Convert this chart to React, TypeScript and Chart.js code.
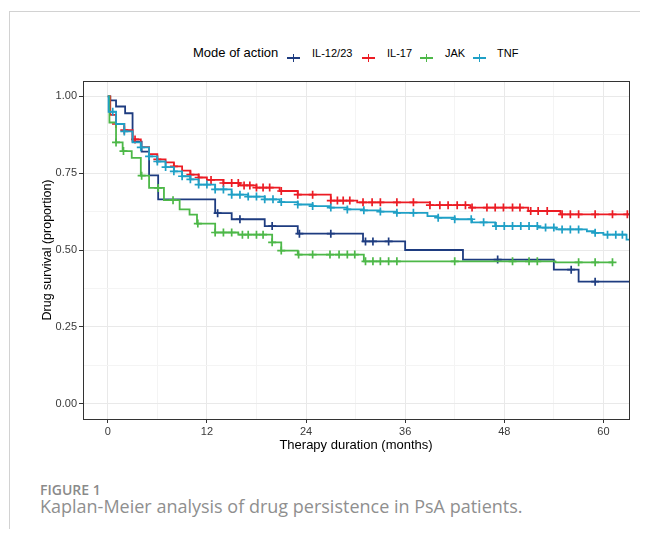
import React, { useEffect, useRef } from "react";
import { Chart, registerables } from "chart.js";
Chart.register(...registerables);

// ---- data (months, survival proportion) ----
const seriesNames = ["IL-12/23", "IL-17", "JAK", "TNF"];
const seriesColors = ["#1E3C80", "#EC1C24", "#4DB848", "#1FA0C6"];

const il1223Times = [0, 0.3, 1, 2.1, 3, 4.1, 5, 6.1, 13, 15, 19, 23, 30.9, 36, 43, 54, 57, 64];
const il1223Surv = [1.0, 0.987, 0.967, 0.945, 0.853, 0.82, 0.743, 0.665, 0.62, 0.6, 0.578, 0.553, 0.528, 0.5, 0.469, 0.436, 0.397, 0.397];
const il1223Censor = [13.3, 16, 19.9, 23.2, 27, 31.2, 32.1, 34, 47.2, 56.1, 59];

const il17Times = [0, 0.3, 1, 2, 3, 4, 5, 6, 7, 8, 9, 10, 11, 12, 14, 16, 18, 20.8, 23, 27, 30.2, 39, 43.9, 50.9, 54.8, 64];
const il17Surv = [1.0, 0.94, 0.91, 0.89, 0.86, 0.835, 0.812, 0.795, 0.785, 0.772, 0.758, 0.745, 0.736, 0.728, 0.718, 0.71, 0.703, 0.692, 0.68, 0.661, 0.655, 0.646, 0.638, 0.627, 0.616, 0.616];
const il17Censor = [1, 2, 3.3, 6, 8, 10, 11, 12.5, 14, 15, 15.8, 16.5, 17.2, 18, 18.8, 19.6, 21, 23, 24.8, 27, 27.8, 28.5, 29.3, 30.9, 32, 33, 35, 37, 39, 40.2, 41.2, 42.3, 43.3, 44.1, 45.9, 46.9, 47.9, 49, 49.9, 51.2, 52.1, 53.2, 55, 56, 57, 59, 61.1, 62.9];

const jakTimes = [0, 0.2, 1, 1.8, 2.9, 4, 5, 6.8, 8.7, 9.9, 10.8, 13, 15.8, 19.9, 21, 23, 31, 54.2, 61.2];
const jakSurv = [1.0, 0.915, 0.85, 0.822, 0.8, 0.742, 0.702, 0.662, 0.632, 0.615, 0.586, 0.557, 0.55, 0.525, 0.498, 0.485, 0.463, 0.46, 0.46];
const jakCensor = [1, 1.9, 4.1, 6.1, 7.9, 10.9, 13, 14, 15, 16.3, 17, 18, 18.8, 19.9, 21, 23.1, 24.8, 26.9, 28, 29, 29.9, 31.2, 32.1, 33, 34, 35, 42, 49, 51, 52, 57, 59, 61.1];

const tnfTimes = [0, 0.1, 1, 2, 3, 4, 5, 6, 7, 8, 9, 10, 11, 13, 15, 17, 19, 20.8, 23, 24.8, 26.9, 29, 31, 33, 35, 38.7, 40, 42, 44.1, 46.9, 52.1, 54.3, 58, 59, 60, 62.8, 64];
const tnfSurv = [1.0, 0.95, 0.91, 0.886, 0.85, 0.834, 0.805, 0.788, 0.77, 0.756, 0.74, 0.73, 0.713, 0.697, 0.68, 0.674, 0.665, 0.656, 0.648, 0.643, 0.638, 0.632, 0.629, 0.625, 0.621, 0.61, 0.605, 0.6, 0.59, 0.578, 0.573, 0.567, 0.561, 0.556, 0.55, 0.534, 0.534];
const tnfCensor = [0.6, 2, 4, 5, 6, 7, 8, 9, 10, 11, 12, 13, 14, 15, 16, 17, 18, 19, 20, 21, 23, 24.8, 27, 29, 31, 33, 35, 37, 40, 42, 44, 45.5, 47, 48, 49, 50, 51, 52, 53, 54, 55, 56, 57, 59, 60.5, 61.5, 62.3];

const xTickValues = [0, 6, 12, 18, 24, 30, 36, 42, 48, 54, 60];
const xLabelValues = [0, 12, 24, 36, 48, 60];
const yTickValues = [0, 0.125, 0.25, 0.375, 0.5, 0.625, 0.75, 0.875, 1];
const yLabelValues = [0, 0.25, 0.5, 0.75, 1];

const xTitle = "Therapy duration (months)";
const yTitle = "Drug survival (proportion)";
const legendTitle = "Mode of action";
const figLabel = "FIGURE 1";
const figCaption = "Kaplan-Meier analysis of drug persistence in PsA patients.";

const series = [
  { times: il1223Times, surv: il1223Surv, censor: il1223Censor },
  { times: il17Times, surv: il17Surv, censor: il17Censor },
  { times: jakTimes, surv: jakSurv, censor: jakCensor },
  { times: tnfTimes, surv: tnfSurv, censor: tnfCensor },
];

function stepAt(times: number[], surv: number[], t: number) {
  let v = surv[0];
  for (let i = 0; i < times.length; i++) {
    if (times[i] <= t) v = surv[i];
  }
  return v;
}

const isLabel = (arr: number[], v: number) => arr.some((a) => Math.abs(a - v) < 1e-6);

const FONT = "'Liberation Sans', Arial, sans-serif";
const CAPFONT = "'Open Sans', Lato, sans-serif";

const panelBorder = {
  id: "panelBorder",
  afterDatasetsDraw(chart: any) {
    const { ctx, chartArea } = chart;
    ctx.save();
    ctx.strokeStyle = "#333333";
    ctx.lineWidth = 1;
    ctx.strokeRect(
      Math.round(chartArea.left) + 0.5,
      Math.round(chartArea.top) + 0.5,
      Math.round(chartArea.right - chartArea.left),
      Math.round(chartArea.bottom - chartArea.top)
    );
    ctx.restore();
  },
};

function LegendSymbol({ color }: { color: string }) {
  return (
    <span style={{ position: "relative", display: "inline-block", width: 13, height: 9 }}>
      <span style={{ position: "absolute", left: 0, top: 4, width: 13, height: 1.7, background: color }} />
      <span style={{ position: "absolute", left: 5.7, top: 0.5, width: 1.7, height: 8, background: color }} />
    </span>
  );
}

export default function App() {
  const canvasRef = useRef<HTMLCanvasElement | null>(null);

  useEffect(() => {
    const canvas = canvasRef.current;
    if (!canvas) return;
    const datasets: any[] = [];
    // draw later groups on top (Chart.js draws first dataset last)
    for (let k = series.length - 1; k >= 0; k--) {
      const s = series[k];
      const color = seriesColors[k];
      datasets.push({
        type: "scatter",
        label: seriesNames[k] + " censored",
        data: s.censor.map((t) => ({ x: t, y: stepAt(s.times, s.surv, t) })),
        borderColor: color,
        backgroundColor: color,
        pointStyle: "cross",
        pointRadius: 4,
        pointBorderWidth: 1.7,
        showLine: false,
        clip: 0,
      });
      datasets.push({
        type: "line",
        label: seriesNames[k],
        data: s.times.map((t, i) => ({ x: t, y: s.surv[i] })),
        borderColor: color,
        backgroundColor: color,
        borderWidth: 1.8,
        pointRadius: 0,
        stepped: "before",
        fill: false,
        clip: 0,
      });
    }

    const chart = new Chart(canvas, {
      type: "line",
      data: { datasets },
      options: {
        animation: false,
        responsive: false,
        maintainAspectRatio: false,
        layout: { padding: { left: 0, right: 11, top: 11, bottom: 0 } },
        plugins: { legend: { display: false }, tooltip: { enabled: false } },
        scales: {
          x: {
            type: "linear",
            min: -3.0,
            max: 63.1,
            afterBuildTicks: (scale: any) => {
              scale.ticks = xTickValues.map((v) => ({ value: v }));
            },
            afterFit: (scale: any) => {
              scale.height = 41;
            },
            ticks: {
              autoSkip: false,
              maxRotation: 0,
              padding: 2,
              color: "#3a3a3a",
              font: { family: FONT, size: 11 },
              callback: (v: any) => (isLabel(xLabelValues, Number(v)) ? String(v) : ""),
            },
            grid: {
              color: (ctx: any) => (isLabel(xLabelValues, ctx.tick?.value) ? "#e9e9e9" : "#f4f4f4"),
              lineWidth: 1,
              tickLength: 4,
              tickColor: (ctx: any) => (isLabel(xLabelValues, ctx.tick?.value) ? "#333333" : "rgba(0,0,0,0)"),
            },
            border: { display: false },
            title: {
              display: true,
              text: xTitle,
              color: "#000000",
              font: { family: FONT, size: 13 },
              padding: { top: 0, bottom: 7 },
            },
          },
          y: {
            type: "linear",
            min: -0.05,
            max: 1.05,
            afterBuildTicks: (scale: any) => {
              scale.ticks = yTickValues.map((v) => ({ value: v }));
            },
            afterFit: (scale: any) => {
              scale.width = 53;
            },
            ticks: {
              autoSkip: false,
              padding: 2,
              color: "#3a3a3a",
              font: { family: FONT, size: 11 },
              callback: (v: any) => (isLabel(yLabelValues, Number(v)) ? Number(v).toFixed(2) : ""),
            },
            grid: {
              color: (ctx: any) => (isLabel(yLabelValues, ctx.tick?.value) ? "#e9e9e9" : "#f4f4f4"),
              lineWidth: 1,
              tickLength: 4,
              tickColor: (ctx: any) => (isLabel(yLabelValues, ctx.tick?.value) ? "#333333" : "rgba(0,0,0,0)"),
            },
            border: { display: false },
            title: {
              display: true,
              text: yTitle,
              color: "#000000",
              font: { family: FONT, size: 12.5 },
              padding: { top: 10, bottom: 0 },
            },
          },
        },
      },
      plugins: [panelBorder],
    } as any);
    return () => chart.destroy();
  }, []);

  const legendPos = [
    { sym: 287, lab: 312 },
    { sym: 362, lab: 387 },
    { sym: 420, lab: 445 },
    { sym: 473, lab: 497 },
  ];

  return (
    <div style={{ position: "relative", width: 648, height: 537, margin: -8, overflow: "hidden", background: "#ffffff" }}>
      <div
        style={{
          position: "absolute",
          left: 9,
          top: 11,
          width: 700,
          height: 600,
          borderLeft: "1px solid #d2d2d2",
          borderTop: "1px solid #d2d2d2",
        }}
      />
      <div
        style={{
          position: "absolute",
          left: 193,
          top: 45,
          fontFamily: FONT,
          fontSize: 13,
          color: "#000",
          whiteSpace: "nowrap",
          lineHeight: "16px",
        }}
      >
        {legendTitle}
      </div>
      {seriesNames.map((name, i) => (
        <React.Fragment key={name}>
          <div style={{ position: "absolute", left: legendPos[i].sym, top: 48 }}>
            <LegendSymbol color={seriesColors[i]} />
          </div>
          <div
            style={{
              position: "absolute",
              left: legendPos[i].lab,
              top: 46,
              fontFamily: FONT,
              fontSize: 11,
              color: "#000",
              whiteSpace: "nowrap",
              lineHeight: "14px",
            }}
          >
            {name}
          </div>
        </React.Fragment>
      ))}
      <canvas
        ref={canvasRef}
        width={610}
        height={390}
        style={{ position: "absolute", left: 30, top: 70, width: 610, height: 390 }}
      />
      <div
        style={{
          position: "absolute",
          left: 40,
          top: 481,
          fontFamily: CAPFONT,
          fontWeight: 600,
          fontSize: 14,
          color: "#8a8a8a",
          whiteSpace: "nowrap",
          lineHeight: "18px",
        }}
      >
        {figLabel}
      </div>
      <div
        style={{
          position: "absolute",
          left: 40,
          top: 494,
          fontFamily: CAPFONT,
          fontSize: 18,
          color: "#8f8f8f",
          whiteSpace: "nowrap",
          lineHeight: "24px",
        }}
      >
        {figCaption}
      </div>
    </div>
  );
}
